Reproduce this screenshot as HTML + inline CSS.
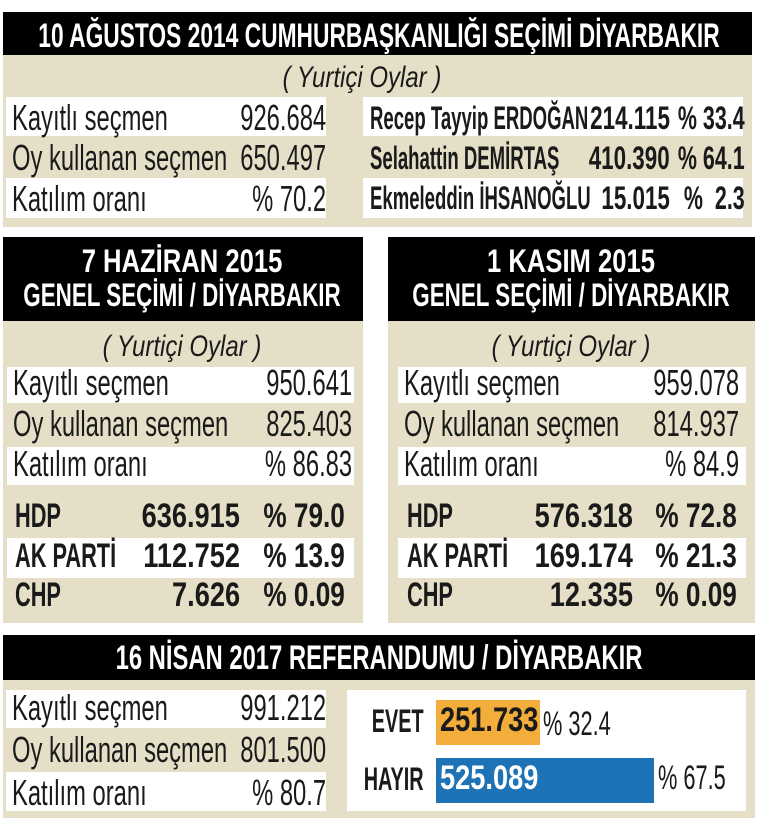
<!DOCTYPE html>
<html><head><meta charset="utf-8"><style>
body{margin:0;width:770px;height:826px;background:#fff;position:relative;overflow:hidden;font-family:"Liberation Sans Narrow","Liberation Sans",sans-serif;color:#1a1a1a}
.b{position:absolute}
.t{position:absolute;white-space:nowrap;line-height:1;font-size:36px;transform:scaleX(.66);transform-origin:left center}
.r{transform-origin:right center}
.c{transform-origin:center center;text-align:center;width:2000px}
.bd{font-weight:bold}
.w{color:#fff}
.i{font-style:italic}
</style></head><body>
<!-- top -->
<div class="b" style="left:3px;top:12px;width:749px;height:43px;background:#000"></div>
<div class="b" style="left:3px;top:55px;width:749px;height:172px;background:#e6dfc7"></div>
<div class="b" style="left:6px;top:97px;width:320px;height:39px;background:#fff"></div>
<div class="b" style="left:6px;top:178px;width:320px;height:40px;background:#fff"></div>
<div class="b" style="left:363px;top:97px;width:380px;height:39px;background:#fff"></div>
<div class="b" style="left:363px;top:178px;width:380px;height:40px;background:#fff"></div>
<div class="t c bd w" style="left:-621px;top:19px;font-size:34px;transform:scaleX(.67)">10 AĞUSTOS 2014 CUMHURBAŞKANLIĞI SEÇİMİ DİYARBAKIR</div>
<div class="t c i" style="left:-638px;top:63px;font-size:30px;transform:scaleX(.8)">( Yurtiçi Oylar )</div>
<div class="t" style="left:12px;top:100px">Kayıtlı seçmen</div>
<div class="t r" style="right:444px;top:100px">926.684</div>
<div class="t" style="left:12px;top:140px">Oy kullanan seçmen</div>
<div class="t r" style="right:444px;top:140px">650.497</div>
<div class="t" style="left:12px;top:181px">Katılım oranı</div>
<div class="t r" style="right:444px;top:181px">% 70.2</div>
<div class="t bd" style="left:370px;top:102px;font-size:32px;transform:scaleX(.58)">Recep Tayyip ERDOĞAN</div>
<div class="t bd r" style="right:100px;top:102px;font-size:32px;transform:scaleX(.7)">214.115</div>
<div class="t bd r" style="right:25px;top:102px;font-size:32px;transform:scaleX(.67)">% 33.4</div>
<div class="t bd" style="left:370px;top:142px;font-size:32px;transform:scaleX(.58)">Selahattin DEMİRTAŞ</div>
<div class="t bd r" style="right:100px;top:142px;font-size:32px;transform:scaleX(.7)">410.390</div>
<div class="t bd r" style="right:25px;top:142px;font-size:32px;transform:scaleX(.67)">% 64.1</div>
<div class="t bd" style="left:370px;top:182px;font-size:32px;transform:scaleX(.58)">Ekmeleddin İHSANOĞLU</div>
<div class="t bd r" style="right:100px;top:182px;font-size:32px;transform:scaleX(.7)">15.015</div>
<div class="t bd r" style="right:25px;top:182px;font-size:32px;transform:scaleX(.67)">% &nbsp;2.3</div>

<!-- mid left -->
<div class="b" style="left:3px;top:237px;width:360px;height:84px;background:#000"></div>
<div class="b" style="left:3px;top:321px;width:360px;height:302px;background:#e6dfc7"></div>
<div class="b" style="left:7px;top:367px;width:347px;height:36px;background:#fff"></div>
<div class="b" style="left:7px;top:447px;width:347px;height:38px;background:#fff"></div>
<div class="b" style="left:7px;top:538px;width:347px;height:40px;background:#fff"></div>
<div class="t c bd w" style="left:-818px;top:245px;font-size:32px;transform:scaleX(.8)">7 HAZİRAN 2015</div>
<div class="t c bd w" style="left:-818px;top:279px;font-size:32px;transform:scaleX(.7)">GENEL SEÇİMİ / DİYARBAKIR</div>
<div class="t c i" style="left:-818px;top:332px;font-size:30px;transform:scaleX(.8)">( Yurtiçi Oylar )</div>
<div class="t" style="left:13px;top:365px">Kayıtlı seçmen</div>
<div class="t r" style="right:418px;top:365px">950.641</div>
<div class="t" style="left:13px;top:406px">Oy kullanan seçmen</div>
<div class="t r" style="right:418px;top:406px">825.403</div>
<div class="t" style="left:13px;top:446px">Katılım oranı</div>
<div class="t r" style="right:418px;top:446px">% 86.83</div>
<div class="t bd" style="left:15px;top:499px;font-size:34px;transform:scaleX(.64)">HDP</div>
<div class="t bd r" style="right:530px;top:499px;font-size:34px;transform:scaleX(.8)">636.915</div>
<div class="t bd r" style="right:425px;top:499px;font-size:34px;transform:scaleX(.77)">% 79.0</div>
<div class="t bd" style="left:15px;top:539px;font-size:34px;transform:scaleX(.64)">AK PARTİ</div>
<div class="t bd r" style="right:530px;top:539px;font-size:34px;transform:scaleX(.8)">112.752</div>
<div class="t bd r" style="right:425px;top:539px;font-size:34px;transform:scaleX(.77)">% 13.9</div>
<div class="t bd" style="left:15px;top:578px;font-size:34px;transform:scaleX(.64)">CHP</div>
<div class="t bd r" style="right:530px;top:578px;font-size:34px;transform:scaleX(.8)">7.626</div>
<div class="t bd r" style="right:425px;top:578px;font-size:34px;transform:scaleX(.77)">% 0.09</div>

<!-- mid right -->
<div class="b" style="left:388px;top:237px;width:367px;height:84px;background:#000"></div>
<div class="b" style="left:388px;top:321px;width:367px;height:302px;background:#e6dfc7"></div>
<div class="b" style="left:398px;top:367px;width:348px;height:36px;background:#fff"></div>
<div class="b" style="left:398px;top:447px;width:348px;height:38px;background:#fff"></div>
<div class="b" style="left:398px;top:538px;width:348px;height:40px;background:#fff"></div>
<div class="t c bd w" style="left:-429px;top:245px;font-size:32px;transform:scaleX(.8)">1 KASIM 2015</div>
<div class="t c bd w" style="left:-429px;top:279px;font-size:32px;transform:scaleX(.7)">GENEL SEÇİMİ / DİYARBAKIR</div>
<div class="t c i" style="left:-429px;top:332px;font-size:30px;transform:scaleX(.8)">( Yurtiçi Oylar )</div>
<div class="t" style="left:404px;top:365px">Kayıtlı seçmen</div>
<div class="t r" style="right:31px;top:365px">959.078</div>
<div class="t" style="left:404px;top:406px">Oy kullanan seçmen</div>
<div class="t r" style="right:31px;top:406px">814.937</div>
<div class="t" style="left:404px;top:446px">Katılım oranı</div>
<div class="t r" style="right:31px;top:446px">% 84.9</div>
<div class="t bd" style="left:407px;top:499px;font-size:34px;transform:scaleX(.64)">HDP</div>
<div class="t bd r" style="right:137px;top:499px;font-size:34px;transform:scaleX(.8)">576.318</div>
<div class="t bd r" style="right:33px;top:499px;font-size:34px;transform:scaleX(.77)">% 72.8</div>
<div class="t bd" style="left:407px;top:539px;font-size:34px;transform:scaleX(.64)">AK PARTİ</div>
<div class="t bd r" style="right:137px;top:539px;font-size:34px;transform:scaleX(.8)">169.174</div>
<div class="t bd r" style="right:33px;top:539px;font-size:34px;transform:scaleX(.77)">% 21.3</div>
<div class="t bd" style="left:407px;top:578px;font-size:34px;transform:scaleX(.64)">CHP</div>
<div class="t bd r" style="right:137px;top:578px;font-size:34px;transform:scaleX(.8)">12.335</div>
<div class="t bd r" style="right:33px;top:578px;font-size:34px;transform:scaleX(.77)">% 0.09</div>

<!-- bottom -->
<div class="b" style="left:3px;top:635px;width:752px;height:45px;background:#000"></div>
<div class="b" style="left:3px;top:680px;width:752px;height:138px;background:#e6dfc7"></div>
<div class="b" style="left:6px;top:690px;width:320px;height:38px;background:#fff"></div>
<div class="b" style="left:6px;top:772px;width:320px;height:39px;background:#fff"></div>
<div class="b" style="left:347px;top:690px;width:399px;height:121px;background:#fff"></div>
<div class="b" style="left:436px;top:700px;width:104px;height:45px;background:#f3ad3a"></div>
<div class="b" style="left:436px;top:758px;width:218px;height:45px;background:#1e72b6"></div>
<div class="t c bd w" style="left:-621px;top:641px;font-size:34px;transform:scaleX(.7)">16 NİSAN 2017 REFERANDUMU / DİYARBAKIR</div>
<div class="t" style="left:12px;top:690px">Kayıtlı seçmen</div>
<div class="t r" style="right:444px;top:690px">991.212</div>
<div class="t" style="left:12px;top:732px">Oy kullanan seçmen</div>
<div class="t r" style="right:444px;top:732px">801.500</div>
<div class="t" style="left:12px;top:775px">Katılım oranı</div>
<div class="t r" style="right:444px;top:775px">% 80.7</div>
<div class="t bd r" style="right:346px;top:705px;font-size:32px;transform:scaleX(.62)">EVET</div>
<div class="t bd" style="left:440px;top:703px;font-size:34px;transform:scaleX(.8)">251.733</div>
<div class="t" style="left:543px;top:707px;font-size:34px;transform:scaleX(.64)">% 32.4</div>
<div class="t bd r" style="right:346px;top:763px;font-size:32px;transform:scaleX(.62)">HAYIR</div>
<div class="t bd w" style="left:440px;top:761px;font-size:34px;transform:scaleX(.8)">525.089</div>
<div class="t" style="left:658px;top:761px;font-size:34px;transform:scaleX(.64)">% 67.5</div>
</body></html>
